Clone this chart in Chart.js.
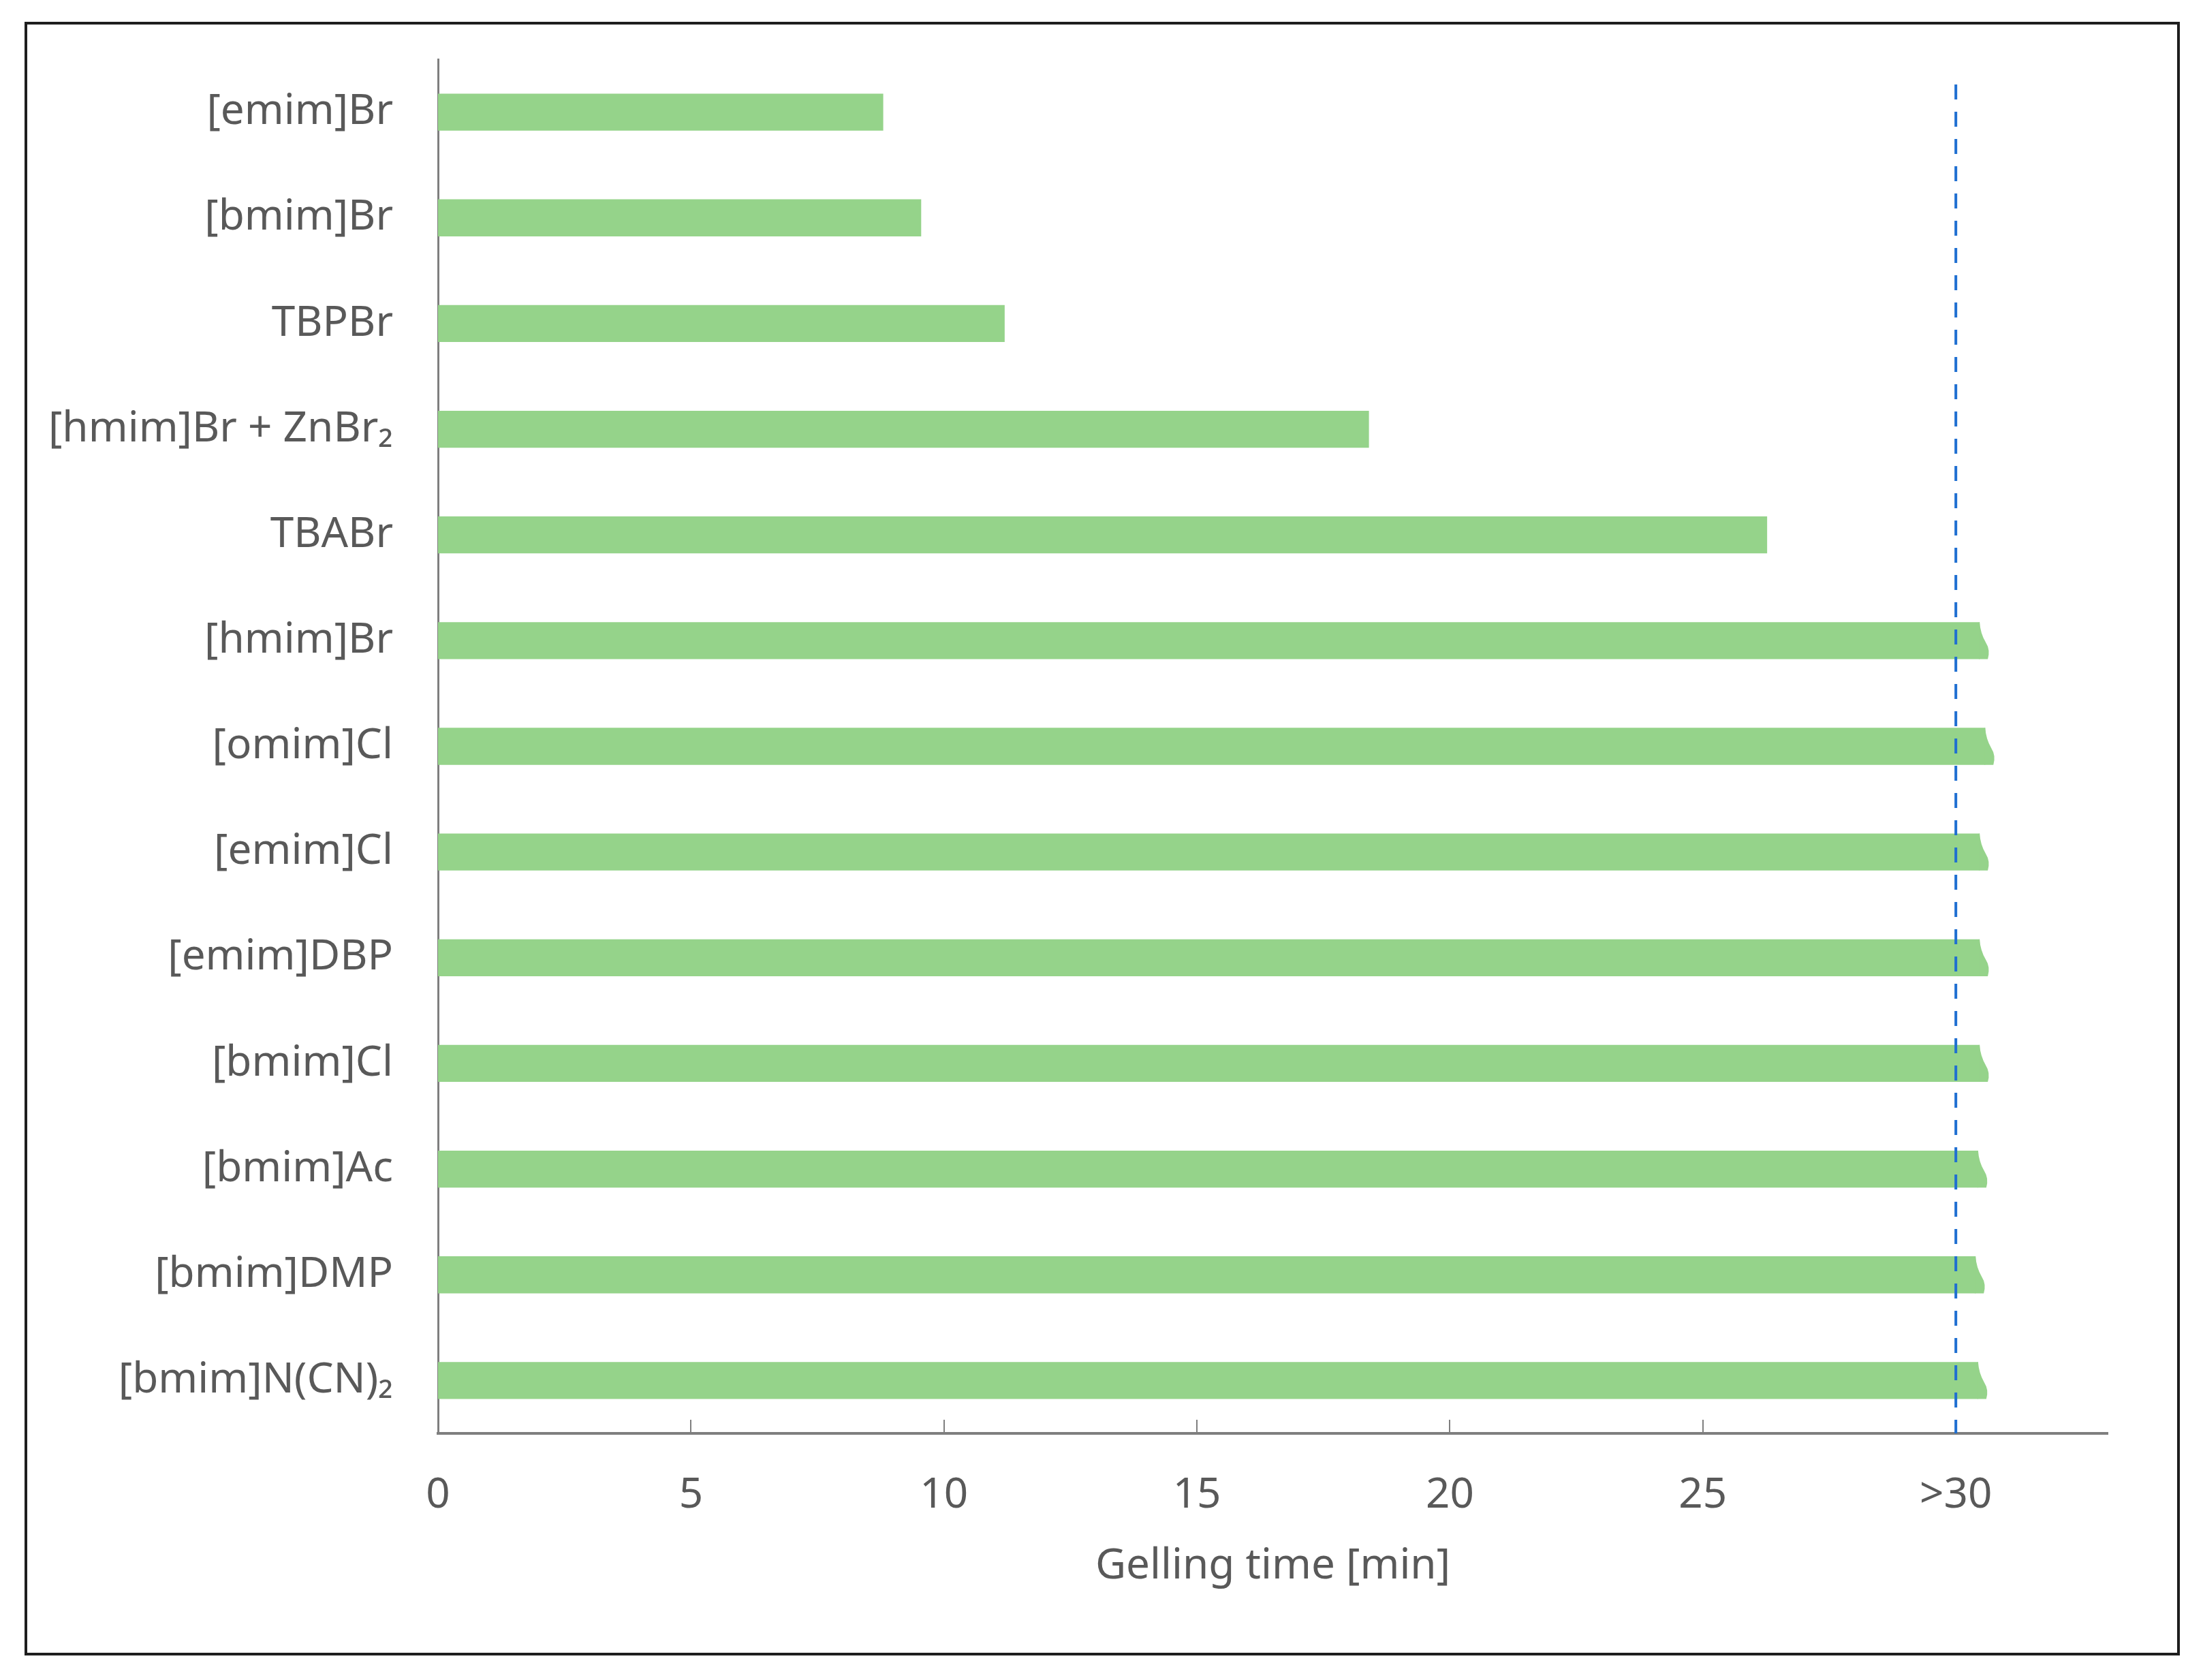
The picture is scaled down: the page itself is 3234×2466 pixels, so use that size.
<!DOCTYPE html>
<html>
<head>
<meta charset="utf-8">
<script src="https://cdn.jsdelivr.net/npm/chart.js@4.4.1/dist/chart.umd.min.js"></script>
<style>
  body { margin: 0; background: #fff; }
  #wrap { position: relative; width: 3234px; height: 2466px; }
  #frame {
    position: absolute; left: 36px; top: 32px; width: 3156px; height: 2390px;
    border: 4px solid #1e1e1e; pointer-events: none;
  }
</style>
</head>
<body>
<div id="wrap">
  <canvas id="myChart"></canvas>
  <div id="frame"></div>
</div>
<script>
// Data

const categories = [
  '[emim]Br', '[bmim]Br', 'TBPBr', '[hmim]Br + ZnBr\u2082', 'TBABr',
  '[hmim]Br', '[omim]Cl', '[emim]Cl', '[emim]DBP', '[bmim]Cl',
  '[bmim]Ac', '[bmim]DMP', '[bmim]N(CN)\u2082'
];
const gellingTime = [8.8, 9.55, 11.2, 18.4, 26.27, 30.47, 30.58, 30.47, 30.47, 30.47, 30.44, 30.39, 30.44];
const tickValues = [0, 5, 10, 15, 20, 25, 30];
const tickLabels = ['0', '5', '10', '15', '20', '25', '>30'];
const xMax = 33;
const limitLine = 30;

const barColor = '#95d38a';
const axisColor = '#7f7f7f';
const textColor = '#595959';
const fontFamily = "'Noto Sans', 'Open Sans', sans-serif";

// the dashed ">30" limit, the inward tick marks and the broken bar tips
const extras = {
  id: 'extras',
  afterDatasetsDraw(chart) {
    const ctx = chart.ctx;
    const x = chart.scales.x;
    const area = chart.chartArea;

    // broken tips on the bars that run past the limit
    const meta = chart.getDatasetMeta(0);
    meta.data.forEach((bar, i) => {
      if (gellingTime[i] <= limitLine) return;
      const h = bar.height;
      const top = bar.y - h / 2;
      const bottom = bar.y + h / 2;
      const x0 = bar.x;
      ctx.save();
      ctx.fillStyle = barColor;
      ctx.beginPath();
      ctx.moveTo(x0 - 1, top);
      ctx.lineTo(x0, top);
      ctx.quadraticCurveTo(x0 + 1, top + h * 0.3, x0 + 9, top + h * 0.55);
      ctx.quadraticCurveTo(x0 + 16, top + h * 0.75, x0 + 12, bottom);
      ctx.lineTo(x0 - 1, bottom);
      ctx.closePath();
      ctx.fill();
      ctx.restore();
    });

    // tick marks pointing up from the x axis
    ctx.save();
    ctx.strokeStyle = axisColor;
    ctx.lineWidth = 2;
    tickValues.forEach(v => {
      if (v === 0) return;
      const px = Math.round(x.getPixelForValue(v));
      ctx.beginPath();
      ctx.moveTo(px, area.bottom);
      ctx.lineTo(px, area.bottom - 20);
      ctx.stroke();
    });
    ctx.restore();

    // dashed limit line
    const lx = x.getPixelForValue(limitLine);
    ctx.save();
    ctx.strokeStyle = '#1f6fd1';
    ctx.lineWidth = 4;
    ctx.setLineDash([22, 18]);
    ctx.beginPath();
    ctx.moveTo(lx, area.top + 37);
    ctx.lineTo(lx, area.bottom);
    ctx.stroke();
    ctx.restore();
  }
};

function drawChart() {
  const ctx = document.getElementById('myChart').getContext('2d');
  const myChart = new Chart(ctx, {
    type: 'bar',
    data: {
      labels: categories,
      datasets: [{
        label: 'Gelling time',
        data: gellingTime,
        backgroundColor: barColor,
        borderWidth: 0,
        categoryPercentage: 1,
        barPercentage: 0.35
      }]
    },
    options: {
      indexAxis: 'y',
      responsive: true,
      maintainAspectRatio: false,
      animation: false,
      layout: {
        padding: { top: 87, right: 140, bottom: 129, left: 0 }
      },
      plugins: {
        legend: { display: false },
        tooltip: { enabled: false }
      },
      scales: {
        y: {
          grid: { display: false, drawTicks: false },
          border: { display: true, color: axisColor, width: 3 },
          ticks: {
            color: textColor,
            // small lineHeight so the label box does not push the plot down
            font: { family: fontFamily, size: 62, lineHeight: 0.5 },
            padding: 66
          },
          afterFit(scale) { scale.width = 643; }
        },
        x: {
          min: 0,
          max: xMax,
          grid: { display: false, drawTicks: false },
          border: { display: true, color: axisColor, width: 4 },
          afterBuildTicks(scale) {
            scale.ticks = tickValues.map(v => ({ value: v }));
          },
          ticks: {
            color: textColor,
            font: { family: fontFamily, size: 62 },
            padding: 54,
            maxRotation: 0,
            callback: (value, i) => tickLabels[i]
          },
          title: {
            display: true,
            text: 'Gelling time [min]',
            color: textColor,
            font: { family: fontFamily, size: 62 },
            padding: { top: 0, bottom: 0 }
          },
          afterFit(scale) { scale.height = 233; }
        }
      }
    },
    plugins: [extras]
  });
}

window.addEventListener('load', function () {
  drawChart();
});
</script>
</body>
</html>
